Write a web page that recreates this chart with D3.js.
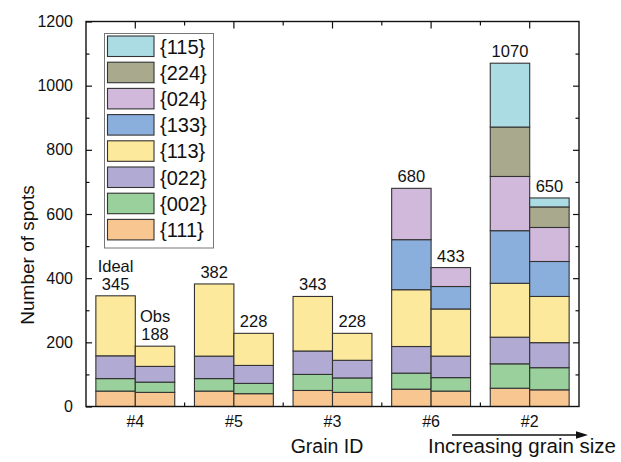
<!DOCTYPE html>
<html>
<head>
<meta charset="utf-8">
<script src="https://cdn.jsdelivr.net/npm/d3@7"></script>
<style>
  html, body { margin: 0; padding: 0; background: #fff; }
  svg { display: block; font-family: "Liberation Sans", Arial, sans-serif; }
</style>
</head>
<body>
<svg id="chart" width="621" height="462"></svg>
<script>
// Grains, ordered by increasing grain size
const grains = ["#4", "#5", "#3", "#6", "#2"];

// Reflection families, bottom of the stack first
const families = ["{111}", "{002}", "{022}", "{113}", "{133}", "{024}", "{224}", "{115}"];
const familyColors = ["#f8c690", "#99d09b", "#b1aad2", "#fde99c", "#8bafdc", "#d1b9dc", "#a9aa8d", "#abdce4"];

// Spot counts per grain (rows) and family (columns)
const idealSpots = [
  [48, 39, 71, 187, 0, 0, 0, 0],
  [48, 39, 70, 225, 0, 0, 0, 0],
  [50, 50, 73, 170, 0, 0, 0, 0],
  [54, 50, 83, 177, 156, 160, 0, 0],
  [57, 76, 83, 168, 164, 169, 154, 199]
];
const observedSpots = [
  [44, 32, 49, 63, 0, 0, 0, 0],
  [40, 32, 56, 100, 0, 0, 0, 0],
  [44, 45, 55, 84, 0, 0, 0, 0],
  [48, 42, 67, 147, 70, 59, 0, 0],
  [52, 69, 78, 144, 109, 106, 64, 28]
];
const kinds = ["Ideal", "Obs"];
const yTicks = [0, 200, 400, 600, 800, 1000, 1200];
const yMinorTicks = [100, 300, 500, 700, 900, 1100];

const svg = d3.select("#chart");
const plotLeft = 86, plotRight = 579, plotTop = 21.5, plotBottom = 406.5;

const x = d3.scaleBand().domain(grains).range([plotLeft, plotRight]).paddingInner(0).paddingOuter(0);
const xKind = d3.scaleBand().domain(kinds).range([0, x.bandwidth()]).paddingInner(0).paddingOuter(0.25);
const y = d3.scaleLinear().domain([0, 1200]).range([plotBottom, plotTop]);

// Build stacked segments
const stackGen = d3.stack().keys(d3.range(families.length));
const bars = [];
kinds.forEach((kind, k) => {
  const table = k === 0 ? idealSpots : observedSpots;
  const layers = stackGen(table);
  layers.forEach((layer, f) => {
    layer.forEach((seg, g) => {
      if (seg[1] - seg[0] > 0) {
        bars.push({ grain: grains[g], kind, family: f, y0: seg[0], y1: seg[1] });
      }
    });
  });
});

const barsG = svg.append("g");
barsG.selectAll("rect").data(bars).join("rect")
  .attr("x", d => x(d.grain) + xKind(d.kind))
  .attr("width", xKind.bandwidth())
  .attr("y", d => y(d.y1))
  .attr("height", d => y(d.y0) - y(d.y1))
  .attr("fill", d => familyColors[d.family])
  .attr("stroke", "#333")
  .attr("stroke-width", 1.1);

// Totals above each bar
const totals = [];
grains.forEach((g, i) => {
  totals.push({ grain: g, kind: "Ideal", total: d3.sum(idealSpots[i]) });
  totals.push({ grain: g, kind: "Obs", total: d3.sum(observedSpots[i]) });
});
svg.append("g").selectAll("text").data(totals).join("text")
  .attr("x", d => x(d.grain) + xKind(d.kind) + xKind.bandwidth() / 2)
  .attr("y", d => y(d.total) - 6)
  .attr("text-anchor", "middle")
  .attr("font-size", 16.5)
  .attr("fill", "#111")
  .text(d => d.total);

// Bar-kind captions on the first grain
svg.append("g").selectAll("text").data(kinds).join("text")
  .attr("x", d => x(grains[0]) + xKind(d) + xKind.bandwidth() / 2)
  .attr("y", (d, i) => y(i === 0 ? d3.sum(idealSpots[0]) : d3.sum(observedSpots[0])) - 24)
  .attr("text-anchor", "middle")
  .attr("font-size", 16.5)
  .attr("fill", "#111")
  .text(d => d);

// Axes: frame with inward ticks on all sides
const axesG = svg.append("g");
axesG.append("g").attr("transform", `translate(0,${plotBottom})`)
  .call(d3.axisBottom(x).tickSize(0).tickPadding(9))
  .call(g => g.select(".domain").remove())
  .call(g => g.selectAll("text").attr("font-size", 16).attr("fill", "#111").attr("font-family", null));

const boundaries = grains.slice(1).map(g => x(g));
const centers = grains.map(g => x(g) + x.bandwidth() / 2);

// bottom minor ticks at group boundaries
axesG.append("g").selectAll("line").data(boundaries).join("line")
  .attr("x1", d => d).attr("x2", d => d)
  .attr("y1", plotBottom).attr("y2", plotBottom - 4)
  .attr("stroke", "#111").attr("stroke-width", 1.2);
// top ticks: major at centers, minor at boundaries
axesG.append("g").selectAll("line").data(centers).join("line")
  .attr("x1", d => d).attr("x2", d => d)
  .attr("y1", plotTop).attr("y2", plotTop + 7)
  .attr("stroke", "#111").attr("stroke-width", 1.2);
axesG.append("g").selectAll("line").data(boundaries).join("line")
  .attr("x1", d => d).attr("x2", d => d)
  .attr("y1", plotTop).attr("y2", plotTop + 4)
  .attr("stroke", "#111").attr("stroke-width", 1.2);

axesG.append("g").attr("transform", `translate(${plotLeft},0)`)
  .call(d3.axisLeft(y).tickValues(yTicks).tickSize(-6).tickPadding(13).tickFormat(d3.format("d")))
  .call(g => g.select(".domain").remove())
  .call(g => g.selectAll(".tick line").attr("stroke", "#111").attr("stroke-width", 1.2))
  .call(g => g.selectAll("text").attr("font-size", 16).attr("fill", "#111").attr("font-family", null));
axesG.append("g").attr("transform", `translate(${plotLeft},0)`)
  .call(d3.axisLeft(y).tickValues(yMinorTicks).tickSize(-3.5).tickFormat(""))
  .call(g => g.select(".domain").remove())
  .call(g => g.selectAll(".tick line").attr("stroke", "#111").attr("stroke-width", 1.2));
axesG.append("g").attr("transform", `translate(${plotRight},0)`)
  .call(d3.axisRight(y).tickValues(yTicks.slice(1, -1)).tickSize(-6).tickFormat(""))
  .call(g => g.select(".domain").remove())
  .call(g => g.selectAll(".tick line").attr("stroke", "#111").attr("stroke-width", 1.2));
axesG.append("g").attr("transform", `translate(${plotRight},0)`)
  .call(d3.axisRight(y).tickValues(yMinorTicks).tickSize(-3.5).tickFormat(""))
  .call(g => g.select(".domain").remove())
  .call(g => g.selectAll(".tick line").attr("stroke", "#111").attr("stroke-width", 1.2));

axesG.append("rect")
  .attr("x", plotLeft).attr("y", plotTop)
  .attr("width", plotRight - plotLeft).attr("height", plotBottom - plotTop)
  .attr("fill", "none").attr("stroke", "#111").attr("stroke-width", 1.4);

// Axis titles
svg.append("text")
  .attr("transform", "translate(34,255) rotate(-90)")
  .attr("text-anchor", "middle")
  .attr("font-size", 19)
  .attr("fill", "#111")
  .text("Number of spots");
svg.append("text")
  .attr("x", 327).attr("y", 453)
  .attr("text-anchor", "middle")
  .attr("font-size", 19.5)
  .attr("fill", "#111")
  .text("Grain ID");

// Grain-size arrow
svg.append("line")
  .attr("x1", 452).attr("x2", 578).attr("y1", 435).attr("y2", 435)
  .attr("stroke", "#111").attr("stroke-width", 1.5);
svg.append("path")
  .attr("d", "M576,431.2 L588,435 L576,438.8 Z")
  .attr("fill", "#111");
svg.append("text")
  .attr("x", 428).attr("y", 453)
  .attr("font-size", 20.5)
  .attr("fill", "#111")
  .text("Increasing grain size");

// Legend, top family first
const legend = svg.append("g");
legend.append("rect")
  .attr("x", 104.5).attr("y", 33.5).attr("width", 109).attr("height", 214.5)
  .attr("fill", "#fff").attr("stroke", "#777").attr("stroke-width", 1);
const legendOrder = d3.range(families.length).reverse();
const rows = legend.selectAll("g.item").data(legendOrder).join("g")
  .attr("class", "item")
  .attr("transform", (d, i) => `translate(0,${36 + i * 26.2})`);
rows.append("rect")
  .attr("x", 107.5).attr("y", 0).attr("width", 46.5).attr("height", 20.5)
  .attr("fill", d => familyColors[d])
  .attr("stroke", "#333").attr("stroke-width", 1.1);
rows.append("text")
  .attr("x", 160).attr("y", 17.5)
  .attr("font-size", 20)
  .attr("fill", "#111")
  .text(d => families[d]);
</script>
</body>
</html>
